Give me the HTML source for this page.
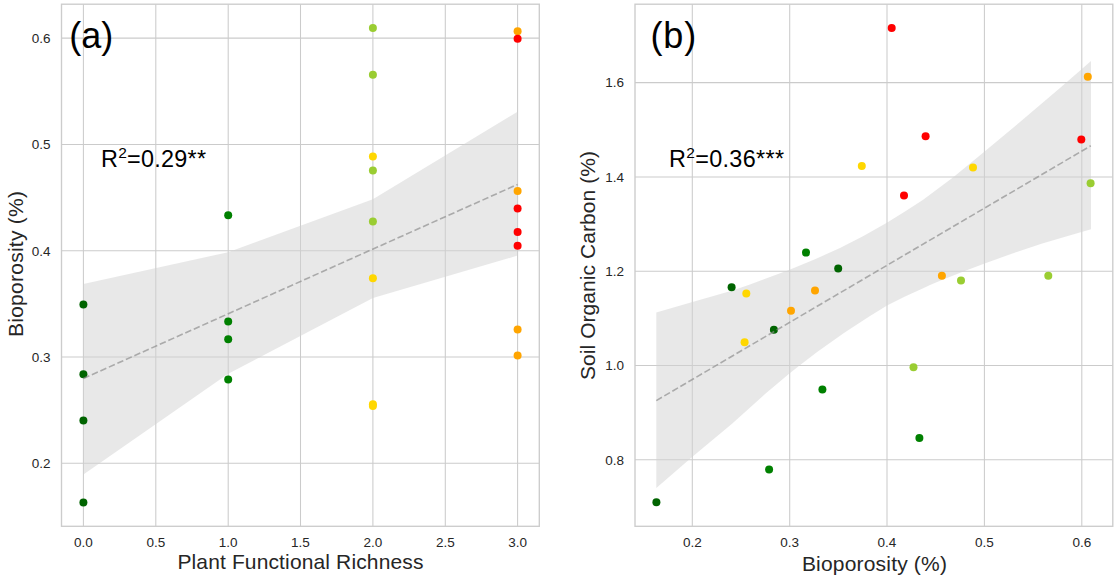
<!DOCTYPE html>
<html lang="en"><head><meta charset="utf-8"><title>Bioporosity regressions</title>
<style>
html,body{margin:0;padding:0;background:#fff;}
body{width:1114px;height:576px;overflow:hidden;}
svg{display:block;}
text{font-family:"Liberation Sans",Arial,sans-serif;fill:#262626;}
.tk{font-size:13.5px;}
.lab{font-size:21px;}
.pan{font-size:36px;fill:#000;}
.r2{font-size:23.4px;fill:#000;}
.sup{font-size:15.5px;}
.grid line{stroke:#cbcbcb;stroke-width:1.05;}
.spine{fill:none;stroke:#cccccc;stroke-width:1.35;}
.band{fill:#d2d2d2;fill-opacity:.5;stroke:none;}
.reg{fill:none;stroke:#8c8c8c;stroke-opacity:.68;stroke-width:1.6;stroke-dasharray:6.5 2.8;}
</style></head><body>
<svg width="1114" height="576" viewBox="0 0 1114 576">
<rect width="1114" height="576" fill="#fff"/>

<g class="grid">
<line x1="83.4" y1="4.2" x2="83.4" y2="526.35"/>
<line x1="155.8" y1="4.2" x2="155.8" y2="526.35"/>
<line x1="228.2" y1="4.2" x2="228.2" y2="526.35"/>
<line x1="300.5" y1="4.2" x2="300.5" y2="526.35"/>
<line x1="372.9" y1="4.2" x2="372.9" y2="526.35"/>
<line x1="445.3" y1="4.2" x2="445.3" y2="526.35"/>
<line x1="517.6" y1="4.2" x2="517.6" y2="526.35"/>
<line x1="61.5" y1="463.3" x2="539.3" y2="463.3"/>
<line x1="61.5" y1="357.0" x2="539.3" y2="357.0"/>
<line x1="61.5" y1="250.7" x2="539.3" y2="250.7"/>
<line x1="61.5" y1="144.4" x2="539.3" y2="144.4"/>
<line x1="61.5" y1="38.1" x2="539.3" y2="38.1"/>
</g>
<polygon class="band" points="83.4,284.0 228.2,252.2 372.9,199.3 517.6,111.7 517.6,255.6 372.9,297.9 228.2,373.8 83.4,474.6"/>
<g>
<circle cx="83.4" cy="304.4" r="4.0" fill="#006400"/>
<circle cx="83.4" cy="374.2" r="4.0" fill="#006400"/>
<circle cx="83.4" cy="420.5" r="4.0" fill="#006400"/>
<circle cx="83.4" cy="502.4" r="4.0" fill="#006400"/>
<circle cx="228.2" cy="215.3" r="4.0" fill="#008000"/>
<circle cx="228.2" cy="321.6" r="4.0" fill="#008000"/>
<circle cx="228.2" cy="339.2" r="4.0" fill="#008000"/>
<circle cx="228.2" cy="379.5" r="4.0" fill="#008000"/>
<circle cx="372.9" cy="27.9" r="4.0" fill="#9acd32"/>
<circle cx="372.9" cy="74.7" r="4.0" fill="#9acd32"/>
<circle cx="372.9" cy="156.5" r="4.0" fill="#ffd700"/>
<circle cx="372.9" cy="170.5" r="4.0" fill="#9acd32"/>
<circle cx="372.9" cy="221.5" r="4.0" fill="#9acd32"/>
<circle cx="372.9" cy="278.2" r="4.0" fill="#ffd700"/>
<circle cx="372.9" cy="404.2" r="4.0" fill="#ffd700"/>
<circle cx="372.9" cy="406.0" r="4.0" fill="#ffd700"/>
<circle cx="517.6" cy="31.3" r="4.0" fill="#ffa500"/>
<circle cx="517.6" cy="38.7" r="4.0" fill="#ff0000"/>
<circle cx="517.6" cy="190.9" r="4.0" fill="#ffa500"/>
<circle cx="517.6" cy="208.4" r="4.0" fill="#ff0000"/>
<circle cx="517.6" cy="231.9" r="4.0" fill="#ff0000"/>
<circle cx="517.6" cy="245.7" r="4.0" fill="#ff0000"/>
<circle cx="517.6" cy="329.4" r="4.0" fill="#ffa500"/>
<circle cx="517.6" cy="355.4" r="4.0" fill="#ffa500"/>
</g>
<path class="reg" d="M83.4 378.5L517.6 184.4"/>
<rect class="spine" x="61.5" y="4.2" width="477.8" height="522.1"/>
<text class="tk" x="83.4" y="547.1" text-anchor="middle">0.0</text>
<text class="tk" x="155.8" y="547.1" text-anchor="middle">0.5</text>
<text class="tk" x="228.2" y="547.1" text-anchor="middle">1.0</text>
<text class="tk" x="300.5" y="547.1" text-anchor="middle">1.5</text>
<text class="tk" x="372.9" y="547.1" text-anchor="middle">2.0</text>
<text class="tk" x="445.3" y="547.1" text-anchor="middle">2.5</text>
<text class="tk" x="517.6" y="547.1" text-anchor="middle">3.0</text>
<text class="tk" x="50.5" y="468.1" text-anchor="end">0.2</text>
<text class="tk" x="50.5" y="361.8" text-anchor="end">0.3</text>
<text class="tk" x="50.5" y="255.5" text-anchor="end">0.4</text>
<text class="tk" x="50.5" y="149.2" text-anchor="end">0.5</text>
<text class="tk" x="50.5" y="42.9" text-anchor="end">0.6</text>
<text class="lab" x="177.4" y="568.9" textLength="246.0" lengthAdjust="spacing">Plant Functional Richness</text>
<text class="lab" transform="translate(23.2 337.0) rotate(-90)" textLength="146.0" lengthAdjust="spacing">Bioporosity (%)</text>
<text class="pan" x="69.3" y="48.1" letter-spacing="0">(a)</text>
<text class="r2" x="101.0" y="166.8" textLength="105.0" lengthAdjust="spacing">R<tspan class="sup" dy="-8.6">2</tspan><tspan dy="8.6">=0.29**</tspan></text>
<g class="grid">
<line x1="692.3" y1="4.2" x2="692.3" y2="526.35"/>
<line x1="789.7" y1="4.2" x2="789.7" y2="526.35"/>
<line x1="887.0" y1="4.2" x2="887.0" y2="526.35"/>
<line x1="984.4" y1="4.2" x2="984.4" y2="526.35"/>
<line x1="1081.8" y1="4.2" x2="1081.8" y2="526.35"/>
<line x1="635.0" y1="459.8" x2="1112.8" y2="459.8"/>
<line x1="635.0" y1="365.5" x2="1112.8" y2="365.5"/>
<line x1="635.0" y1="271.2" x2="1112.8" y2="271.2"/>
<line x1="635.0" y1="176.9" x2="1112.8" y2="176.9"/>
<line x1="635.0" y1="82.6" x2="1112.8" y2="82.6"/>
</g>
<polygon class="band" points="656.3,312.5 692.5,302.1 731.8,290.8 750.0,284.6 789.6,269.7 815.0,259.2 840.0,248.1 863.0,236.2 886.9,222.8 905.0,211.6 922.8,200.0 953.3,177.2 984.6,151.5 1020.0,122.0 1059.4,88.4 1081.3,69.5 1091.0,60.9 1091.0,229.2 1081.4,231.9 1042.2,243.5 1014.6,252.7 984.6,263.4 964.0,271.2 941.9,280.0 930.0,285.0 922.6,288.4 905.0,296.6 887.0,305.5 869.2,316.5 850.0,329.0 843.2,333.5 817.1,352.0 798.9,366.0 789.7,373.2 765.0,394.0 732.0,423.7 692.7,456.5 656.3,487.9"/>
<g>
<circle cx="656.4" cy="502.2" r="4.0" fill="#006400"/>
<circle cx="731.6" cy="287.3" r="4.0" fill="#006400"/>
<circle cx="746.3" cy="293.6" r="4.0" fill="#ffd700"/>
<circle cx="744.6" cy="342.2" r="4.0" fill="#ffd700"/>
<circle cx="769.1" cy="469.4" r="4.0" fill="#008000"/>
<circle cx="773.9" cy="329.7" r="4.0" fill="#006400"/>
<circle cx="791.0" cy="310.8" r="4.0" fill="#ffa500"/>
<circle cx="806.0" cy="252.6" r="4.0" fill="#008000"/>
<circle cx="815.0" cy="290.5" r="4.0" fill="#ffa500"/>
<circle cx="822.4" cy="389.5" r="4.0" fill="#008000"/>
<circle cx="838.2" cy="268.6" r="4.0" fill="#006400"/>
<circle cx="861.8" cy="166.0" r="4.0" fill="#ffd700"/>
<circle cx="891.7" cy="27.9" r="4.0" fill="#ff0000"/>
<circle cx="904.0" cy="195.5" r="4.0" fill="#ff0000"/>
<circle cx="913.5" cy="367.3" r="4.0" fill="#9acd32"/>
<circle cx="919.4" cy="437.9" r="4.0" fill="#008000"/>
<circle cx="925.6" cy="136.2" r="4.0" fill="#ff0000"/>
<circle cx="941.9" cy="275.7" r="4.0" fill="#ffa500"/>
<circle cx="961.0" cy="280.6" r="4.0" fill="#9acd32"/>
<circle cx="973.0" cy="167.4" r="4.0" fill="#ffd700"/>
<circle cx="1048.3" cy="275.7" r="4.0" fill="#9acd32"/>
<circle cx="1081.3" cy="139.4" r="4.0" fill="#ff0000"/>
<circle cx="1087.8" cy="76.7" r="4.0" fill="#ffa500"/>
<circle cx="1090.6" cy="183.2" r="4.0" fill="#9acd32"/>
</g>
<path class="reg" d="M656.3 400.6L1090.8 145.8"/>
<rect class="spine" x="635.0" y="4.2" width="477.8" height="522.1"/>
<text class="tk" x="692.3" y="547.1" text-anchor="middle">0.2</text>
<text class="tk" x="789.7" y="547.1" text-anchor="middle">0.3</text>
<text class="tk" x="887.0" y="547.1" text-anchor="middle">0.4</text>
<text class="tk" x="984.4" y="547.1" text-anchor="middle">0.5</text>
<text class="tk" x="1081.8" y="547.1" text-anchor="middle">0.6</text>
<text class="tk" x="624.0" y="464.6" text-anchor="end">0.8</text>
<text class="tk" x="624.0" y="370.3" text-anchor="end">1.0</text>
<text class="tk" x="624.0" y="276.0" text-anchor="end">1.2</text>
<text class="tk" x="624.0" y="181.7" text-anchor="end">1.4</text>
<text class="tk" x="624.0" y="87.4" text-anchor="end">1.6</text>
<text class="lab" x="801.9" y="570.6" textLength="145.0" lengthAdjust="spacing">Bioporosity (%)</text>
<text class="lab" transform="translate(595.0 380.0) rotate(-90)" textLength="229.0" lengthAdjust="spacing">Soil Organic Carbon (%)</text>
<text class="pan" x="650.4" y="48.1" letter-spacing="0.9">(b)</text>
<text class="r2" x="669.0" y="166.8" textLength="115.0" lengthAdjust="spacing">R<tspan class="sup" dy="-8.6">2</tspan><tspan dy="8.6">=0.36***</tspan></text>
</svg>
</body></html>
